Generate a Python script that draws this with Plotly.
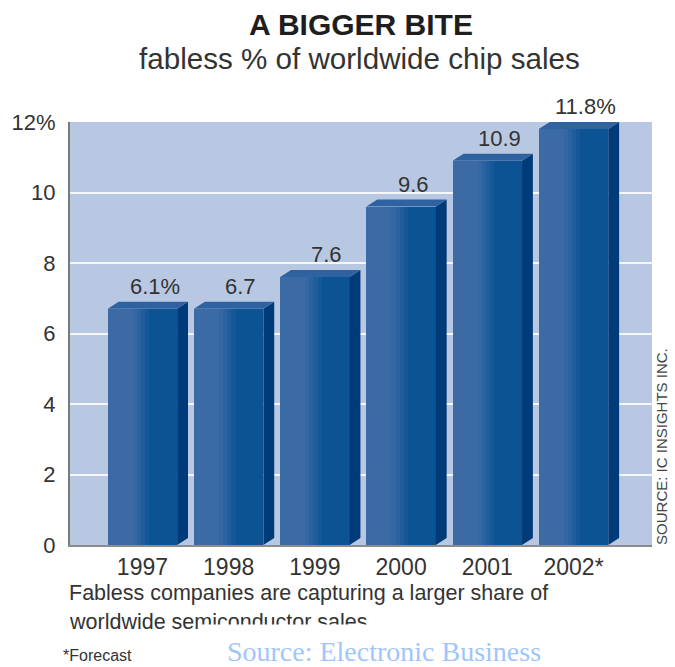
import plotly.graph_objects as go

# ---- data ----
years = ["1997", "1998", "1999", "2000", "2001", "2002*"]
bar_heights = [6.7, 6.7, 7.6, 9.6, 10.9, 11.8]
bar_labels = ["6.1%", "6.7", "7.6", "9.6", "10.9", "11.8%"]
y_tickvals = [0, 2, 4, 6, 8, 10, 12]
y_ticktext = ["0", "2", "4", "6", "8", "10", "12%"]

title = "<b>A BIGGER BITE</b>"
subtitle = "fabless % of worldwide chip sales"
note_line1 = "Fabless companies are capturing a larger share of"
note_line2 = "worldwide semiconductor sales"
forecast_note = "*Forecast"
side_source = "SOURCE: IC INSIGHTS INC."
bottom_source = "Source: Electronic Business"

# ---- geometry / style ----
W = 0.805      # front face width (category units)
DX = 0.126     # 3D depth, x
DY = 0.2       # 3D depth, y
FONT = "Liberation Sans, Arial, Helvetica, sans-serif"
TXT = "#333333"

# plot area in pixels (for placing paper-referenced text)
L_PX, R_PX, T_PX, B_PX = 65, 652, 122, 545
def px_x(px):
    return (px - L_PX) / (R_PX - L_PX)
def px_y(py):
    return (B_PX - py) / (B_PX - T_PX)

idx = list(range(len(years)))

fig = go.Figure()

# front faces, drawn as narrow bands to imitate the horizontal shading
bands = [(0.00, 0.36, "#3b6aa5"), (0.36, 0.42, "#3467a3"), (0.42, 0.48, "#2b62a0"),
         (0.48, 0.54, "#215d9c"), (0.54, 0.60, "#165897"), (0.60, 1.00, "#0c5393")]
for s, e, c in bands:
    fig.add_trace(go.Bar(
        x=idx, y=bar_heights, width=(e - s) * W, offset=-W / 2 + s * W,
        marker=dict(color=c, line=dict(width=0)),
        hoverinfo="skip", showlegend=False))

# side faces and top faces derived from the data
sx, sy, tx, ty = [], [], [], []
for i, v in zip(idx, bar_heights):
    Lx = i - W / 2
    Rx = i + W / 2
    sx += [Rx, Rx + DX, Rx + DX, Rx, Rx, None]
    sy += [v, v + DY, DY, 0, v, None]
    tx += [Lx, Lx + DX, Rx + DX, Rx, Lx, None]
    ty += [v, v + DY, v + DY, v, v, None]

fig.add_trace(go.Scatter(x=sx, y=sy, mode="lines", fill="toself",
                         fillcolor="#003b79", line=dict(width=0),
                         hoverinfo="skip", showlegend=False))
fig.add_trace(go.Scatter(x=tx, y=ty, mode="lines", fill="toself",
                         fillcolor="#2f62a0", line=dict(width=0),
                         hoverinfo="skip", showlegend=False))

annotations = []
# value labels above bars
for i, v, lab in zip(idx, bar_heights, bar_labels):
    annotations.append(dict(x=i + 0.14, y=v + DY, xref="x", yref="y",
                            text=lab, showarrow=False, yanchor="bottom",
                            yshift=1, font=dict(family=FONT, size=22, color=TXT)))

annotations += [
    dict(x=px_x(358), y=px_y(24), xref="paper", yref="paper", text=title,
         showarrow=False, xanchor="center", yanchor="middle",
         font=dict(family=FONT, size=30, color="#1e1e1e")),
    dict(x=px_x(357), y=px_y(59), xref="paper", yref="paper", text=subtitle,
         showarrow=False, xanchor="center", yanchor="middle",
         font=dict(family=FONT, size=29.6, color=TXT)),
    dict(x=px_x(661), y=px_y(446), xref="paper", yref="paper", text=side_source,
         showarrow=False, xanchor="center", yanchor="middle", textangle=-90,
         font=dict(family=FONT, size=15, color="#444444")),
    dict(x=px_x(62), y=px_y(593), xref="paper", yref="paper", text=note_line1,
         showarrow=False, xanchor="left", yanchor="middle",
         font=dict(family=FONT, size=21.5, color=TXT)),
    dict(x=px_x(62), y=px_y(622), xref="paper", yref="paper", text=note_line2,
         showarrow=False, xanchor="left", yanchor="middle",
         font=dict(family=FONT, size=21.5, color=TXT)),
    dict(x=px_x(56), y=px_y(655), xref="paper", yref="paper", text=forecast_note,
         showarrow=False, xanchor="left", yanchor="middle",
         font=dict(family=FONT, size=16, color=TXT)),
    # white box partially hiding the second note line, with the source text
    dict(x=px_x(382), y=px_y(646), xref="paper", yref="paper", text=bottom_source,
         showarrow=False, xanchor="center", yanchor="middle",
         width=370, height=42, valign="bottom", bgcolor="#ffffff", borderpad=0,
         font=dict(family="Liberation Serif, Times New Roman, serif", size=28,
                   color="#9fc6fb")),
]

fig.update_layout(
    width=675, height=667, autosize=False,
    margin=dict(l=L_PX, r=675 - R_PX, t=T_PX, b=667 - B_PX),
    paper_bgcolor="#ffffff", plot_bgcolor="#b9c8e2",
    barmode="overlay", bargap=0, showlegend=False,
    annotations=annotations,
    xaxis=dict(range=[-0.84, 5.91], tickvals=idx, ticktext=years,
               showgrid=False, zeroline=False, showline=True,
               linecolor="#8c8c8c", linewidth=2, ticks="",
               tickfont=dict(family=FONT, size=23, color=TXT), fixedrange=True),
    yaxis=dict(range=[0, 12], tickvals=y_tickvals, ticktext=y_ticktext,
               showgrid=True, gridcolor="rgba(255,255,255,0.85)", gridwidth=1.5,
               zeroline=False, showline=True, linecolor="#7a7a7a", linewidth=2,
               ticks="", ticklabelstandoff=8,
               tickfont=dict(family=FONT, size=22, color=TXT), fixedrange=True),
)

fig.write_html("out.html")
